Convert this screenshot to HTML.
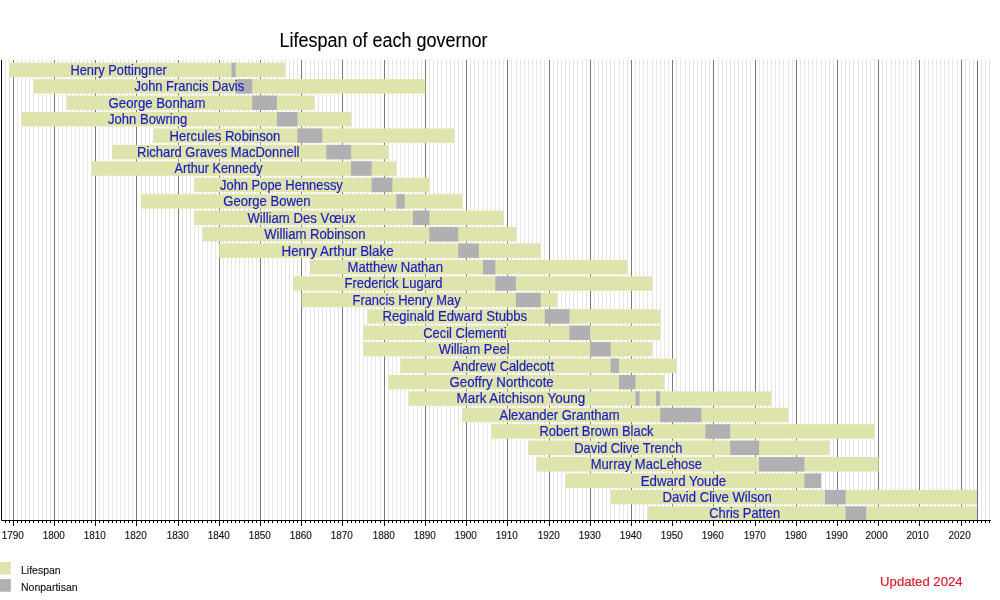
<!DOCTYPE html><html><head><meta charset="utf-8"><title>Lifespan of each governor</title>
<style>html,body{margin:0;padding:0;background:#fff;width:1000px;height:600px;overflow:hidden}svg{display:block;will-change:transform}text{font-family:"Liberation Sans",Arial,sans-serif}</style></head><body>
<svg width="1000" height="600" viewBox="0 0 1000 600">
<rect width="1000" height="600" fill="#fff"/>
<path d="M5.50 59.3V520.5M9.50 59.3V520.5M17.50 59.3V520.5M21.50 59.3V520.5M25.50 59.3V520.5M29.50 59.3V520.5M33.50 59.3V520.5M38.50 59.3V520.5M42.50 59.3V520.5M46.50 59.3V520.5M50.50 59.3V520.5M58.50 59.3V520.5M62.50 59.3V520.5M66.50 59.3V520.5M71.50 59.3V520.5M75.50 59.3V520.5M79.50 59.3V520.5M83.50 59.3V520.5M87.50 59.3V520.5M91.50 59.3V520.5M99.50 59.3V520.5M103.50 59.3V520.5M108.50 59.3V520.5M112.50 59.3V520.5M116.50 59.3V520.5M120.50 59.3V520.5M124.50 59.3V520.5M128.50 59.3V520.5M132.50 59.3V520.5M141.50 59.3V520.5M145.50 59.3V520.5M149.50 59.3V520.5M153.50 59.3V520.5M157.50 59.3V520.5M161.50 59.3V520.5M165.50 59.3V520.5M169.50 59.3V520.5M174.50 59.3V520.5M182.50 59.3V520.5M186.50 59.3V520.5M190.50 59.3V520.5M194.50 59.3V520.5M198.50 59.3V520.5M202.50 59.3V520.5M207.50 59.3V520.5M211.50 59.3V520.5M215.50 59.3V520.5M223.50 59.3V520.5M227.50 59.3V520.5M231.50 59.3V520.5M235.50 59.3V520.5M239.50 59.3V520.5M244.50 59.3V520.5M248.50 59.3V520.5M252.50 59.3V520.5M256.50 59.3V520.5M264.50 59.3V520.5M268.50 59.3V520.5M272.50 59.3V520.5M277.50 59.3V520.5M281.50 59.3V520.5M285.50 59.3V520.5M289.50 59.3V520.5M293.50 59.3V520.5M297.50 59.3V520.5M305.50 59.3V520.5M310.50 59.3V520.5M314.50 59.3V520.5M318.50 59.3V520.5M322.50 59.3V520.5M326.50 59.3V520.5M330.50 59.3V520.5M334.50 59.3V520.5M338.50 59.3V520.5M347.50 59.3V520.5M351.50 59.3V520.5M355.50 59.3V520.5M359.50 59.3V520.5M363.50 59.3V520.5M367.50 59.3V520.5M371.50 59.3V520.5M375.50 59.3V520.5M380.50 59.3V520.5M388.50 59.3V520.5M392.50 59.3V520.5M396.50 59.3V520.5M400.50 59.3V520.5M404.50 59.3V520.5M408.50 59.3V520.5M413.50 59.3V520.5M417.50 59.3V520.5M421.50 59.3V520.5M429.50 59.3V520.5M433.50 59.3V520.5M437.50 59.3V520.5M441.50 59.3V520.5M446.50 59.3V520.5M450.50 59.3V520.5M454.50 59.3V520.5M458.50 59.3V520.5M462.50 59.3V520.5M470.50 59.3V520.5M474.50 59.3V520.5M478.50 59.3V520.5M483.50 59.3V520.5M487.50 59.3V520.5M491.50 59.3V520.5M495.50 59.3V520.5M499.50 59.3V520.5M503.50 59.3V520.5M511.50 59.3V520.5M516.50 59.3V520.5M520.50 59.3V520.5M524.50 59.3V520.5M528.50 59.3V520.5M532.50 59.3V520.5M536.50 59.3V520.5M540.50 59.3V520.5M544.50 59.3V520.5M553.50 59.3V520.5M557.50 59.3V520.5M561.50 59.3V520.5M565.50 59.3V520.5M569.50 59.3V520.5M573.50 59.3V520.5M577.50 59.3V520.5M582.50 59.3V520.5M586.50 59.3V520.5M594.50 59.3V520.5M598.50 59.3V520.5M602.50 59.3V520.5M606.50 59.3V520.5M610.50 59.3V520.5M614.50 59.3V520.5M619.50 59.3V520.5M623.50 59.3V520.5M627.50 59.3V520.5M635.50 59.3V520.5M639.50 59.3V520.5M643.50 59.3V520.5M647.50 59.3V520.5M652.50 59.3V520.5M656.50 59.3V520.5M660.50 59.3V520.5M664.50 59.3V520.5M668.50 59.3V520.5M676.50 59.3V520.5M680.50 59.3V520.5M685.50 59.3V520.5M689.50 59.3V520.5M693.50 59.3V520.5M697.50 59.3V520.5M701.50 59.3V520.5M705.50 59.3V520.5M709.50 59.3V520.5M718.50 59.3V520.5M722.50 59.3V520.5M726.50 59.3V520.5M730.50 59.3V520.5M734.50 59.3V520.5M738.50 59.3V520.5M742.50 59.3V520.5M746.50 59.3V520.5M750.50 59.3V520.5M759.50 59.3V520.5M763.50 59.3V520.5M767.50 59.3V520.5M771.50 59.3V520.5M775.50 59.3V520.5M779.50 59.3V520.5M783.50 59.3V520.5M788.50 59.3V520.5M792.50 59.3V520.5M800.50 59.3V520.5M804.50 59.3V520.5M808.50 59.3V520.5M812.50 59.3V520.5M816.50 59.3V520.5M821.50 59.3V520.5M825.50 59.3V520.5M829.50 59.3V520.5M833.50 59.3V520.5M841.50 59.3V520.5M845.50 59.3V520.5M849.50 59.3V520.5M853.50 59.3V520.5M858.50 59.3V520.5M862.50 59.3V520.5M866.50 59.3V520.5M870.50 59.3V520.5M874.50 59.3V520.5M882.50 59.3V520.5M886.50 59.3V520.5M891.50 59.3V520.5M895.50 59.3V520.5M899.50 59.3V520.5M903.50 59.3V520.5M907.50 59.3V520.5M911.50 59.3V520.5M915.50 59.3V520.5M924.50 59.3V520.5M928.50 59.3V520.5M932.50 59.3V520.5M936.50 59.3V520.5M940.50 59.3V520.5M944.50 59.3V520.5M948.50 59.3V520.5M952.50 59.3V520.5M957.50 59.3V520.5M965.50 59.3V520.5M969.50 59.3V520.5M973.50 59.3V520.5M977.50 59.3V520.5M981.50 59.3V520.5M985.50 59.3V520.5M989.50 59.3V520.5" stroke="#e6e6e6" stroke-width="1" fill="none"/>
<path d="M13.50 60V520.5M54.50 60V520.5M95.50 60V520.5M136.50 60V520.5M178.50 60V520.5M219.50 60V520.5M260.50 60V520.5M301.50 60V520.5M342.50 60V520.5M384.50 60V520.5M425.50 60V520.5M466.50 60V520.5M507.50 60V520.5M549.50 60V520.5M590.50 60V520.5M631.50 60V520.5M672.50 60V520.5M713.50 60V520.5M755.50 60V520.5M796.50 60V520.5M837.50 60V520.5M878.50 60V520.5M919.50 60V520.5M961.50 60V520.5" stroke="#7a7a7a" stroke-width="1" fill="none"/>
<rect x="9.04" y="62.75" width="276.11" height="14.4" fill="#dfe4ad"/>
<rect x="231.58" y="62.75" width="4.12" height="14.4" fill="#b0b0b2"/>
<rect x="33.77" y="79.18" width="391.50" height="14.4" fill="#dfe4ad"/>
<rect x="235.70" y="79.18" width="16.48" height="14.4" fill="#b0b0b2"/>
<rect x="66.74" y="95.61" width="247.26" height="14.4" fill="#dfe4ad"/>
<rect x="252.18" y="95.61" width="24.73" height="14.4" fill="#b0b0b2"/>
<rect x="21.41" y="112.04" width="329.68" height="14.4" fill="#dfe4ad"/>
<rect x="276.91" y="112.04" width="20.61" height="14.4" fill="#b0b0b2"/>
<rect x="153.28" y="128.47" width="300.83" height="14.4" fill="#dfe4ad"/>
<rect x="297.51" y="128.47" width="24.73" height="14.4" fill="#b0b0b2"/>
<rect x="112.07" y="144.90" width="276.11" height="14.4" fill="#dfe4ad"/>
<rect x="326.36" y="144.90" width="24.73" height="14.4" fill="#b0b0b2"/>
<rect x="91.46" y="161.33" width="304.95" height="14.4" fill="#dfe4ad"/>
<rect x="351.09" y="161.33" width="20.61" height="14.4" fill="#b0b0b2"/>
<rect x="194.49" y="177.76" width="234.90" height="14.4" fill="#dfe4ad"/>
<rect x="371.69" y="177.76" width="20.61" height="14.4" fill="#b0b0b2"/>
<rect x="140.91" y="194.19" width="321.44" height="14.4" fill="#dfe4ad"/>
<rect x="396.42" y="194.19" width="8.24" height="14.4" fill="#b0b0b2"/>
<rect x="194.49" y="210.62" width="309.08" height="14.4" fill="#dfe4ad"/>
<rect x="412.90" y="210.62" width="16.48" height="14.4" fill="#b0b0b2"/>
<rect x="202.73" y="227.05" width="313.20" height="14.4" fill="#dfe4ad"/>
<rect x="429.38" y="227.05" width="28.85" height="14.4" fill="#b0b0b2"/>
<rect x="219.21" y="243.48" width="321.44" height="14.4" fill="#dfe4ad"/>
<rect x="458.23" y="243.48" width="20.61" height="14.4" fill="#b0b0b2"/>
<rect x="309.88" y="259.91" width="317.32" height="14.4" fill="#dfe4ad"/>
<rect x="482.96" y="259.91" width="12.36" height="14.4" fill="#b0b0b2"/>
<rect x="293.39" y="276.34" width="358.53" height="14.4" fill="#dfe4ad"/>
<rect x="495.32" y="276.34" width="20.60" height="14.4" fill="#b0b0b2"/>
<rect x="301.63" y="292.77" width="255.50" height="14.4" fill="#dfe4ad"/>
<rect x="515.92" y="292.77" width="24.73" height="14.4" fill="#b0b0b2"/>
<rect x="367.57" y="309.20" width="292.59" height="14.4" fill="#dfe4ad"/>
<rect x="544.77" y="309.20" width="24.73" height="14.4" fill="#b0b0b2"/>
<rect x="363.45" y="325.63" width="296.71" height="14.4" fill="#dfe4ad"/>
<rect x="569.50" y="325.63" width="20.61" height="14.4" fill="#b0b0b2"/>
<rect x="363.45" y="342.06" width="288.47" height="14.4" fill="#dfe4ad"/>
<rect x="590.10" y="342.06" width="20.60" height="14.4" fill="#b0b0b2"/>
<rect x="400.54" y="358.49" width="276.11" height="14.4" fill="#dfe4ad"/>
<rect x="610.71" y="358.49" width="8.24" height="14.4" fill="#b0b0b2"/>
<rect x="388.17" y="374.92" width="276.11" height="14.4" fill="#dfe4ad"/>
<rect x="618.95" y="374.92" width="16.48" height="14.4" fill="#b0b0b2"/>
<rect x="408.78" y="391.35" width="362.65" height="14.4" fill="#dfe4ad"/>
<rect x="635.43" y="391.35" width="4.12" height="14.4" fill="#b0b0b2"/>
<rect x="656.04" y="391.35" width="4.12" height="14.4" fill="#b0b0b2"/>
<rect x="462.35" y="407.78" width="325.56" height="14.4" fill="#dfe4ad"/>
<rect x="660.16" y="407.78" width="41.21" height="14.4" fill="#b0b0b2"/>
<rect x="491.20" y="424.21" width="383.25" height="14.4" fill="#dfe4ad"/>
<rect x="705.49" y="424.21" width="24.73" height="14.4" fill="#b0b0b2"/>
<rect x="528.29" y="440.64" width="300.83" height="14.4" fill="#dfe4ad"/>
<rect x="730.22" y="440.64" width="28.85" height="14.4" fill="#b0b0b2"/>
<rect x="536.53" y="457.07" width="342.04" height="14.4" fill="#dfe4ad"/>
<rect x="759.06" y="457.07" width="45.33" height="14.4" fill="#b0b0b2"/>
<rect x="565.38" y="473.50" width="255.50" height="14.4" fill="#dfe4ad"/>
<rect x="804.40" y="473.50" width="16.48" height="14.4" fill="#b0b0b2"/>
<rect x="610.71" y="489.93" width="366.77" height="14.4" fill="#dfe4ad"/>
<rect x="825.00" y="489.93" width="20.61" height="14.4" fill="#b0b0b2"/>
<rect x="647.80" y="506.36" width="329.68" height="14.4" fill="#dfe4ad"/>
<rect x="845.61" y="506.36" width="20.61" height="14.4" fill="#b0b0b2"/>
<path d="M977.50 61V520.5" stroke="#806288" stroke-width="1"/>
<text transform="translate(70.40 74.80) scale(0.9315 1)" font-size="13.8" fill="#1c1cc0" stroke="#1c1cc0" stroke-width="0.2">Henry Pottingner</text>
<text transform="translate(134.58 91.23) scale(0.9347 1)" font-size="13.8" fill="#1c1cc0" stroke="#1c1cc0" stroke-width="0.2">John Francis Davis</text>
<text transform="translate(108.59 107.66) scale(0.9563 1)" font-size="13.8" fill="#1c1cc0" stroke="#1c1cc0" stroke-width="0.2">George Bonham</text>
<text transform="translate(108.00 124.09) scale(0.9480 1)" font-size="13.8" fill="#1c1cc0" stroke="#1c1cc0" stroke-width="0.2">John Bowring</text>
<text transform="translate(169.49 140.52) scale(0.9515 1)" font-size="13.8" fill="#1c1cc0" stroke="#1c1cc0" stroke-width="0.2">Hercules Robinson</text>
<text transform="translate(137.00 156.95) scale(0.9426 1)" font-size="13.8" fill="#1c1cc0" stroke="#1c1cc0" stroke-width="0.2">Richard Graves MacDonnell</text>
<text transform="translate(174.46 173.38) scale(0.9189 1)" font-size="13.8" fill="#1c1cc0" stroke="#1c1cc0" stroke-width="0.2">Arthur Kennedy</text>
<text transform="translate(220.00 189.81) scale(0.9371 1)" font-size="13.8" fill="#1c1cc0" stroke="#1c1cc0" stroke-width="0.2">John Pope Hennessy</text>
<text transform="translate(223.23 206.24) scale(0.9492 1)" font-size="13.8" fill="#1c1cc0" stroke="#1c1cc0" stroke-width="0.2">George Bowen</text>
<text transform="translate(247.47 222.67) scale(0.9518 1)" font-size="13.8" fill="#1c1cc0" stroke="#1c1cc0" stroke-width="0.2">William Des Vœux</text>
<text transform="translate(264.24 239.10) scale(0.9507 1)" font-size="13.8" fill="#1c1cc0" stroke="#1c1cc0" stroke-width="0.2">William Robinson</text>
<text transform="translate(281.49 255.53) scale(0.9690 1)" font-size="13.8" fill="#1c1cc0" stroke="#1c1cc0" stroke-width="0.2">Henry Arthur Blake</text>
<text transform="translate(347.50 271.96) scale(0.9502 1)" font-size="13.8" fill="#1c1cc0" stroke="#1c1cc0" stroke-width="0.2">Matthew Nathan</text>
<text transform="translate(344.49 288.39) scale(0.9408 1)" font-size="13.8" fill="#1c1cc0" stroke="#1c1cc0" stroke-width="0.2">Frederick Lugard</text>
<text transform="translate(352.51 304.82) scale(0.9341 1)" font-size="13.8" fill="#1c1cc0" stroke="#1c1cc0" stroke-width="0.2">Francis Henry May</text>
<text transform="translate(382.48 321.25) scale(0.9537 1)" font-size="13.8" fill="#1c1cc0" stroke="#1c1cc0" stroke-width="0.2">Reginald Edward Stubbs</text>
<text transform="translate(423.24 337.68) scale(0.9374 1)" font-size="13.8" fill="#1c1cc0" stroke="#1c1cc0" stroke-width="0.2">Cecil Clementi</text>
<text transform="translate(438.72 354.11) scale(0.9339 1)" font-size="13.8" fill="#1c1cc0" stroke="#1c1cc0" stroke-width="0.2">William Peel</text>
<text transform="translate(452.47 370.54) scale(0.9329 1)" font-size="13.8" fill="#1c1cc0" stroke="#1c1cc0" stroke-width="0.2">Andrew Caldecott</text>
<text transform="translate(449.49 386.97) scale(0.9601 1)" font-size="13.8" fill="#1c1cc0" stroke="#1c1cc0" stroke-width="0.2">Geoffry Northcote</text>
<text transform="translate(456.48 403.40) scale(0.9753 1)" font-size="13.8" fill="#1c1cc0" stroke="#1c1cc0" stroke-width="0.2">Mark Aitchison Young</text>
<text transform="translate(499.49 419.83) scale(0.9443 1)" font-size="13.8" fill="#1c1cc0" stroke="#1c1cc0" stroke-width="0.2">Alexander Grantham</text>
<text transform="translate(539.49 436.26) scale(0.9357 1)" font-size="13.8" fill="#1c1cc0" stroke="#1c1cc0" stroke-width="0.2">Robert Brown Black</text>
<text transform="translate(574.26 452.69) scale(0.9339 1)" font-size="13.8" fill="#1c1cc0" stroke="#1c1cc0" stroke-width="0.2">David Clive Trench</text>
<text transform="translate(590.73 469.12) scale(0.9432 1)" font-size="13.8" fill="#1c1cc0" stroke="#1c1cc0" stroke-width="0.2">Murray MacLehose</text>
<text transform="translate(640.75 485.55) scale(0.9602 1)" font-size="13.8" fill="#1c1cc0" stroke="#1c1cc0" stroke-width="0.2">Edward Youde</text>
<text transform="translate(662.50 501.98) scale(0.9514 1)" font-size="13.8" fill="#1c1cc0" stroke="#1c1cc0" stroke-width="0.2">David Clive Wilson</text>
<text transform="translate(709.23 518.41) scale(0.9339 1)" font-size="13.8" fill="#1c1cc0" stroke="#1c1cc0" stroke-width="0.2">Chris Patten</text>
<path d="M1.5 60V520.5H990.9" stroke="#000" stroke-width="1" fill="none"/>
<path d="M5.50 520.5V523M9.50 520.5V523M13.50 520.5V526M17.50 520.5V523M21.50 520.5V523M25.50 520.5V523M29.50 520.5V523M33.50 520.5V523M38.50 520.5V523M42.50 520.5V523M46.50 520.5V523M50.50 520.5V523M54.50 520.5V526M58.50 520.5V523M62.50 520.5V523M66.50 520.5V523M71.50 520.5V523M75.50 520.5V523M79.50 520.5V523M83.50 520.5V523M87.50 520.5V523M91.50 520.5V523M95.50 520.5V526M99.50 520.5V523M103.50 520.5V523M108.50 520.5V523M112.50 520.5V523M116.50 520.5V523M120.50 520.5V523M124.50 520.5V523M128.50 520.5V523M132.50 520.5V523M136.50 520.5V526M141.50 520.5V523M145.50 520.5V523M149.50 520.5V523M153.50 520.5V523M157.50 520.5V523M161.50 520.5V523M165.50 520.5V523M169.50 520.5V523M174.50 520.5V523M178.50 520.5V526M182.50 520.5V523M186.50 520.5V523M190.50 520.5V523M194.50 520.5V523M198.50 520.5V523M202.50 520.5V523M207.50 520.5V523M211.50 520.5V523M215.50 520.5V523M219.50 520.5V526M223.50 520.5V523M227.50 520.5V523M231.50 520.5V523M235.50 520.5V523M239.50 520.5V523M244.50 520.5V523M248.50 520.5V523M252.50 520.5V523M256.50 520.5V523M260.50 520.5V526M264.50 520.5V523M268.50 520.5V523M272.50 520.5V523M277.50 520.5V523M281.50 520.5V523M285.50 520.5V523M289.50 520.5V523M293.50 520.5V523M297.50 520.5V523M301.50 520.5V526M305.50 520.5V523M310.50 520.5V523M314.50 520.5V523M318.50 520.5V523M322.50 520.5V523M326.50 520.5V523M330.50 520.5V523M334.50 520.5V523M338.50 520.5V523M342.50 520.5V526M347.50 520.5V523M351.50 520.5V523M355.50 520.5V523M359.50 520.5V523M363.50 520.5V523M367.50 520.5V523M371.50 520.5V523M375.50 520.5V523M380.50 520.5V523M384.50 520.5V526M388.50 520.5V523M392.50 520.5V523M396.50 520.5V523M400.50 520.5V523M404.50 520.5V523M408.50 520.5V523M413.50 520.5V523M417.50 520.5V523M421.50 520.5V523M425.50 520.5V526M429.50 520.5V523M433.50 520.5V523M437.50 520.5V523M441.50 520.5V523M446.50 520.5V523M450.50 520.5V523M454.50 520.5V523M458.50 520.5V523M462.50 520.5V523M466.50 520.5V526M470.50 520.5V523M474.50 520.5V523M478.50 520.5V523M483.50 520.5V523M487.50 520.5V523M491.50 520.5V523M495.50 520.5V523M499.50 520.5V523M503.50 520.5V523M507.50 520.5V526M511.50 520.5V523M516.50 520.5V523M520.50 520.5V523M524.50 520.5V523M528.50 520.5V523M532.50 520.5V523M536.50 520.5V523M540.50 520.5V523M544.50 520.5V523M549.50 520.5V526M553.50 520.5V523M557.50 520.5V523M561.50 520.5V523M565.50 520.5V523M569.50 520.5V523M573.50 520.5V523M577.50 520.5V523M582.50 520.5V523M586.50 520.5V523M590.50 520.5V526M594.50 520.5V523M598.50 520.5V523M602.50 520.5V523M606.50 520.5V523M610.50 520.5V523M614.50 520.5V523M619.50 520.5V523M623.50 520.5V523M627.50 520.5V523M631.50 520.5V526M635.50 520.5V523M639.50 520.5V523M643.50 520.5V523M647.50 520.5V523M652.50 520.5V523M656.50 520.5V523M660.50 520.5V523M664.50 520.5V523M668.50 520.5V523M672.50 520.5V526M676.50 520.5V523M680.50 520.5V523M685.50 520.5V523M689.50 520.5V523M693.50 520.5V523M697.50 520.5V523M701.50 520.5V523M705.50 520.5V523M709.50 520.5V523M713.50 520.5V526M718.50 520.5V523M722.50 520.5V523M726.50 520.5V523M730.50 520.5V523M734.50 520.5V523M738.50 520.5V523M742.50 520.5V523M746.50 520.5V523M750.50 520.5V523M755.50 520.5V526M759.50 520.5V523M763.50 520.5V523M767.50 520.5V523M771.50 520.5V523M775.50 520.5V523M779.50 520.5V523M783.50 520.5V523M788.50 520.5V523M792.50 520.5V523M796.50 520.5V526M800.50 520.5V523M804.50 520.5V523M808.50 520.5V523M812.50 520.5V523M816.50 520.5V523M821.50 520.5V523M825.50 520.5V523M829.50 520.5V523M833.50 520.5V523M837.50 520.5V526M841.50 520.5V523M845.50 520.5V523M849.50 520.5V523M853.50 520.5V523M858.50 520.5V523M862.50 520.5V523M866.50 520.5V523M870.50 520.5V523M874.50 520.5V523M878.50 520.5V526M882.50 520.5V523M886.50 520.5V523M891.50 520.5V523M895.50 520.5V523M899.50 520.5V523M903.50 520.5V523M907.50 520.5V523M911.50 520.5V523M915.50 520.5V523M919.50 520.5V526M924.50 520.5V523M928.50 520.5V523M932.50 520.5V523M936.50 520.5V523M940.50 520.5V523M944.50 520.5V523M948.50 520.5V523M952.50 520.5V523M957.50 520.5V523M961.50 520.5V526M965.50 520.5V523M969.50 520.5V523M973.50 520.5V523M977.50 520.5V523M981.50 520.5V523M985.50 520.5V523M989.50 520.5V523" stroke="#000" stroke-width="1" fill="none"/>
<text transform="translate(12.80 538.7) scale(0.96 1)" font-size="10.4" text-anchor="middle" fill="#111" stroke="#111" stroke-width="0.12">1790</text>
<text transform="translate(53.80 538.7) scale(0.96 1)" font-size="10.4" text-anchor="middle" fill="#111" stroke="#111" stroke-width="0.12">1800</text>
<text transform="translate(94.80 538.7) scale(0.96 1)" font-size="10.4" text-anchor="middle" fill="#111" stroke="#111" stroke-width="0.12">1810</text>
<text transform="translate(135.80 538.7) scale(0.96 1)" font-size="10.4" text-anchor="middle" fill="#111" stroke="#111" stroke-width="0.12">1820</text>
<text transform="translate(177.80 538.7) scale(0.96 1)" font-size="10.4" text-anchor="middle" fill="#111" stroke="#111" stroke-width="0.12">1830</text>
<text transform="translate(218.80 538.7) scale(0.96 1)" font-size="10.4" text-anchor="middle" fill="#111" stroke="#111" stroke-width="0.12">1840</text>
<text transform="translate(259.80 538.7) scale(0.96 1)" font-size="10.4" text-anchor="middle" fill="#111" stroke="#111" stroke-width="0.12">1850</text>
<text transform="translate(300.80 538.7) scale(0.96 1)" font-size="10.4" text-anchor="middle" fill="#111" stroke="#111" stroke-width="0.12">1860</text>
<text transform="translate(341.80 538.7) scale(0.96 1)" font-size="10.4" text-anchor="middle" fill="#111" stroke="#111" stroke-width="0.12">1870</text>
<text transform="translate(383.80 538.7) scale(0.96 1)" font-size="10.4" text-anchor="middle" fill="#111" stroke="#111" stroke-width="0.12">1880</text>
<text transform="translate(424.80 538.7) scale(0.96 1)" font-size="10.4" text-anchor="middle" fill="#111" stroke="#111" stroke-width="0.12">1890</text>
<text transform="translate(465.80 538.7) scale(0.96 1)" font-size="10.4" text-anchor="middle" fill="#111" stroke="#111" stroke-width="0.12">1900</text>
<text transform="translate(506.80 538.7) scale(0.96 1)" font-size="10.4" text-anchor="middle" fill="#111" stroke="#111" stroke-width="0.12">1910</text>
<text transform="translate(548.80 538.7) scale(0.96 1)" font-size="10.4" text-anchor="middle" fill="#111" stroke="#111" stroke-width="0.12">1920</text>
<text transform="translate(589.80 538.7) scale(0.96 1)" font-size="10.4" text-anchor="middle" fill="#111" stroke="#111" stroke-width="0.12">1930</text>
<text transform="translate(630.80 538.7) scale(0.96 1)" font-size="10.4" text-anchor="middle" fill="#111" stroke="#111" stroke-width="0.12">1940</text>
<text transform="translate(671.80 538.7) scale(0.96 1)" font-size="10.4" text-anchor="middle" fill="#111" stroke="#111" stroke-width="0.12">1950</text>
<text transform="translate(712.80 538.7) scale(0.96 1)" font-size="10.4" text-anchor="middle" fill="#111" stroke="#111" stroke-width="0.12">1960</text>
<text transform="translate(754.80 538.7) scale(0.96 1)" font-size="10.4" text-anchor="middle" fill="#111" stroke="#111" stroke-width="0.12">1970</text>
<text transform="translate(795.80 538.7) scale(0.96 1)" font-size="10.4" text-anchor="middle" fill="#111" stroke="#111" stroke-width="0.12">1980</text>
<text transform="translate(836.80 538.7) scale(0.96 1)" font-size="10.4" text-anchor="middle" fill="#111" stroke="#111" stroke-width="0.12">1990</text>
<text transform="translate(876.60 538.7) scale(0.96 1)" font-size="10.4" text-anchor="middle" fill="#111" stroke="#111" stroke-width="0.12">2000</text>
<text transform="translate(917.60 538.7) scale(0.96 1)" font-size="10.4" text-anchor="middle" fill="#111" stroke="#111" stroke-width="0.12">2010</text>
<text transform="translate(959.60 538.7) scale(0.96 1)" font-size="10.4" text-anchor="middle" fill="#111" stroke="#111" stroke-width="0.12">2020</text>
<text transform="translate(279.5 46.7) scale(0.918 1)" font-size="19.6" fill="#000" stroke="#000" stroke-width="0.12">Lifespan of each governor</text>
<rect x="0" y="562" width="10.8" height="12.4" fill="#dfe4ad"/>
<rect x="0" y="579.1" width="10.8" height="12.6" fill="#b0b0b2"/>
<text transform="translate(21.0 573.9) scale(1.0 1)" font-size="10.5" fill="#111" stroke="#111" stroke-width="0.12">Lifespan</text>
<text transform="translate(21.0 590.5) scale(1.0 1)" font-size="10.5" fill="#111" stroke="#111" stroke-width="0.12">Nonpartisan</text>
<text transform="translate(880.1 585.9) scale(0.995 1)" font-size="13.2" fill="#d42032" stroke="#d42032" stroke-width="0.2">Updated 2024</text>
</svg></body></html>
